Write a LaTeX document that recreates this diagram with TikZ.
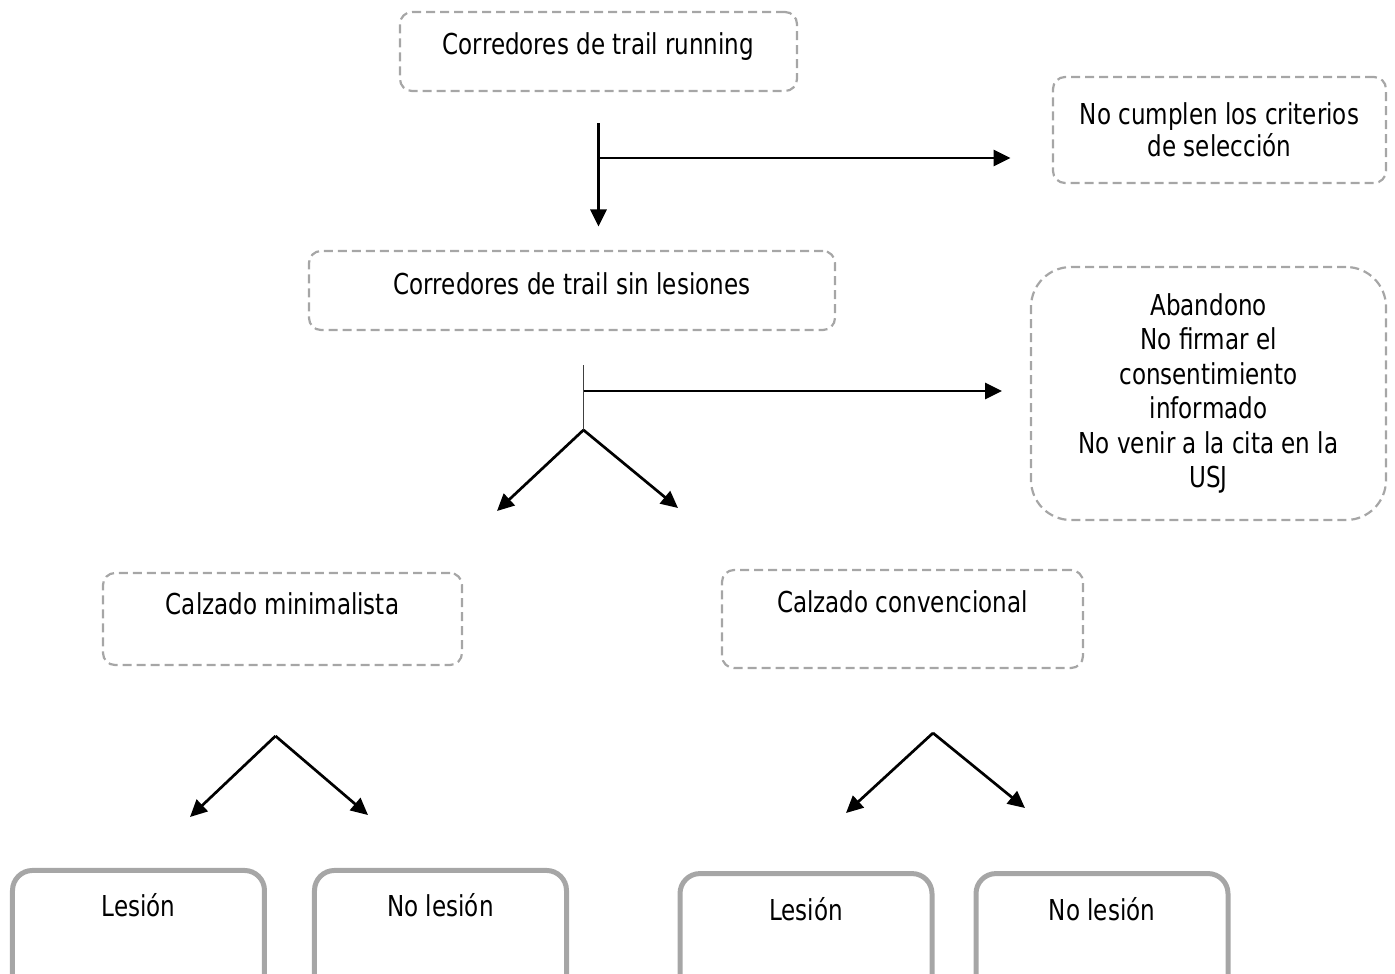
\documentclass[tikz,border=0pt]{standalone}
\usepackage{fontspec}
\setmainfont{DejaVu Sans}[FakeStretch=0.8]
\usetikzlibrary{positioning,arrows.meta}
\definecolor{boxgray}{RGB}{166,166,166}
\tikzset{>={Triangle[length=8.5pt,width=8pt]}}
\tikzset{
  dbox/.style={draw=boxgray, line width=1.1pt, dash pattern=on 4.5pt off 2.5pt, rounded corners=6pt, inner sep=0pt, align=center, font=\fontsize{14.4pt}{17.2pt}\selectfont},
  sbox/.style={draw=boxgray, line width=2.5pt, rounded corners=10pt, minimum width=126pt, inner sep=0pt, text height=23.25pt, font=\fontsize{14.4pt}{17.2pt}\selectfont},
  arr/.style={->, line width=1.35pt}
}

\begin{document}
\begin{tikzpicture}
      \useasboundingbox (-299.25pt,-460.75pt) rectangle (398.25pt,25.75pt);
      \clip (-299.25pt,-460.75pt) rectangle (398.25pt,25.75pt);
      \node[dbox, minimum width=198.5pt, text height=21.5pt, text depth=18pt] (n0) at (0,0) {Corredores de trail running};
      \node[dbox, right of=n0, node distance=310.5pt, yshift=-39.25pt, minimum width=166.5pt, minimum height=53pt, font=\fontsize{14.4pt}{15.8pt}\selectfont] (n1) {No cumplen los criterios\\de selección};
      \node[dbox, below of=n0, node distance=119.5pt, xshift=-13.25pt, minimum width=263pt, text height=21.75pt, text depth=17.75pt] (n2) {Corredores de trail sin lesiones};
      \node[dbox, right of=n2, node distance=318.25pt, yshift=-51.5pt, rounded corners=20pt, minimum width=177.5pt, minimum height=126.5pt] (n3) {Abandono\\No firmar el\\consentimiento\\informado\\No venir a la cita en la\\USJ};
      \node[dbox, below of=n2, node distance=164.25pt, xshift=-144.75pt, minimum width=179.5pt, text height=20.75pt, text depth=25.25pt] (n4) {Calzado minimalista};
      \node[dbox, right of=n4, node distance=310pt, minimum width=180.5pt, text height=21.25pt, text depth=27.75pt] (n5) {Calzado convencional};
      \node[sbox, below of=n4, node distance=160.6pt, xshift=-72pt, text depth=46.5pt] (n41) {Lesión};
      \node[sbox, right of=n41, node distance=151pt, text depth=46.5pt] (n42) {No lesión};
      \node[sbox, below of=n5, node distance=161.4pt, xshift=-48.25pt, text depth=45pt] (n51) {Lesión};
      \node[sbox, right of=n51, node distance=148pt, text depth=45pt] (n52) {No lesión};
      \coordinate[below of=n0, node distance=36pt] (a0);
      \coordinate[below of=n0, node distance=53.25pt] (b0);
      \coordinate[below of=n0, node distance=87.5pt] (c0);
      \coordinate[right of=b0, node distance=206pt] (d0);
      \draw[arr] (a0) -- (c0);
      \draw[arr] (b0) -- (d0);
      \coordinate[below of=n2, node distance=37.25pt, xshift=5.75pt] (a1);
      \coordinate[below of=n2, node distance=50.25pt, xshift=5.75pt] (b1);
      \coordinate[below of=n2, node distance=69.75pt, xshift=5.75pt] (c1);
      \coordinate[right of=b1, node distance=209.25pt] (d1);
      \coordinate[below of=c1, node distance=40.5pt, xshift=-43.25pt] (l1);
      \coordinate[below of=c1, node distance=39pt, xshift=47.25pt] (r1);
      \draw[line width=0.9pt, black!75] (a1) -- (c1);
      \draw[arr] (b1) -- (d1);
      \draw[arr] (c1) -- (l1);
      \draw[arr] (c1) -- (r1);
      \coordinate[below of=n4, node distance=58.5pt, xshift=-3.5pt] (c4);
      \coordinate[below of=c4, node distance=40.5pt, xshift=-42.75pt] (l4);
      \coordinate[below of=c4, node distance=39.5pt, xshift=46.25pt] (r4);
      \draw[arr] (c4) -- (l4);
      \draw[arr] (c4) -- (r4);
      \coordinate[below of=n5, node distance=57pt, xshift=15.25pt] (c5);
      \coordinate[below of=c5, node distance=40pt, xshift=-43.5pt] (l5);
      \coordinate[below of=c5, node distance=37.5pt, xshift=46pt] (r5);
      \draw[arr] (c5) -- (l5);
      \draw[arr] (c5) -- (r5);
    \end{tikzpicture}
\end{document}
